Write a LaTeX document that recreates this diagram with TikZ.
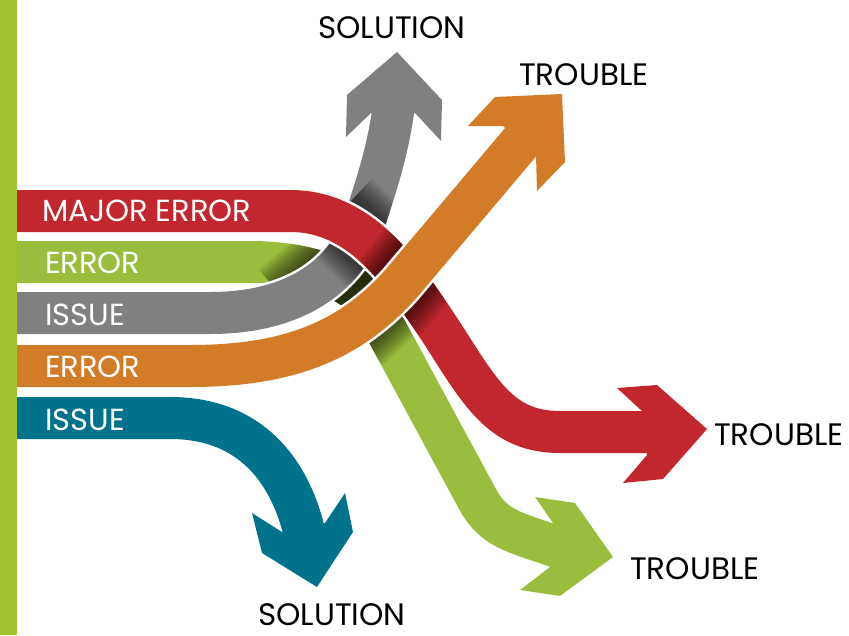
\documentclass[tikz,border=0pt]{standalone}
\usepackage{fontspec}
\setmainfont{Poppins}
\usetikzlibrary{calc}
\definecolor{cred}{HTML}{C1272D}
\definecolor{cgreen}{HTML}{9BBD3D}
\definecolor{cgrey}{HTML}{808080}
\definecolor{corange}{HTML}{D37C28}
\definecolor{cteal}{HTML}{01728B}
\definecolor{cbar}{HTML}{A1C22C}
\tikzset{
  bandwhite/.style={line width=47pt, white},
  band/.style={line width=42pt},
  headwhite/.style={fill=white, draw=white, line width=5pt, line join=miter},
  lbl/.style={font=\fontsize{30.5}{30.5}\selectfont, text=white, inner sep=0pt, anchor=base west},
  blbl/.style={font=\fontsize{31}{31}\selectfont, text=black, inner sep=0pt, anchor=base west}
}
% shadow cast on an under-band (#1) by a straight stretch P(#2)--Q(#3) of the band above it
\newcommand{\castshadow}[3]{%
  \foreach \d in {48,46,...,24}{%
    \begin{scope}
      \clip ($(#2)!\d pt!90:(#3)$) -- ($(#3)!\d pt!-90:(#2)$) -- ($(#3)!\d pt!90:(#2)$) -- ($(#2)!\d pt!-90:(#3)$) -- cycle;
      \draw[band, black, opacity=0.06] #1;
    \end{scope}
  }%
}
\begin{document}
\begin{tikzpicture}[x=1pt,y=-1pt]
\useasboundingbox (0,0) rectangle (849,635);
\fill[white] (0,0) rectangle (849,635);

% green band
\def\pgreen{(17,262) -- (250,262) .. controls (310,262) and (359,280) .. (378,315) -- (478,500) .. controls (495,530) and (515,532) .. (560,548)}
\def\hgreen{(553,523) -- (535,497) -- (575,503) -- (613,557) -- (560,596) -- (520,590) -- (550,567) -- cycle}
\draw[bandwhite] \pgreen;
\path[headwhite] \hgreen;
\draw[band, cgreen] \pgreen;
\fill[cgreen] \hgreen;
\castshadow{\pgreen}{290,306}{364,243}
\castshadow{\pgreen}{340,340}{420,265}

% grey band
\def\pgrey{(17,313) -- (210,313) .. controls (290,313) and (345,280) .. (365,220) .. controls (378,180) and (388,150) .. (394,105)}
\def\hgrey{(371,113) -- (346,137) -- (347,95) -- (397,52) -- (442,100) -- (441,141) -- (415,113) -- cycle}
\draw[bandwhite] \pgrey;
\path[headwhite] \hgrey;
\draw[band, cgrey] \pgrey;
\fill[cgrey] \hgrey;
\castshadow{\pgrey}{339,214}{412,282}

% red band
\def\pred{(17,211) -- (290,211) .. controls (360,211) and (400,270) .. (440,330) .. controls (480,392) and (500,432) .. (560,432) -- (650,432)}
\def\hred{(643,412) -- (617,388) -- (657,385) -- (707,429) -- (663,479) -- (623,483) -- (647,455) -- cycle}
\draw[bandwhite] \pred;
\path[headwhite] \hred;
\draw[band, cred] \pred;
\fill[cred] \hred;
\castshadow{\pred}{380,309}{460,214}

% orange band
\def\porange{(17,366) -- (190,366) .. controls (290,366) and (350,340) .. (400,285) -- (525,137)}
\def\horange{(503,126) -- (468,126) -- (495,97) -- (562,94) -- (565,162) -- (537,191) -- (536,155) -- cycle}
\draw[bandwhite] \porange;
\path[headwhite] \horange;
\draw[band, corange] \porange;
\fill[corange] \horange;

% teal band
\def\pteal{(17,418) -- (170,418) .. controls (250,418) and (290,470) .. (305,535)}
\def\hteal{(282,532) -- (252,513) -- (262,553) -- (317,587) -- (353,532) -- (345,493) -- (325,523) -- cycle}
\draw[bandwhite] \pteal;
\path[headwhite] \hteal;
\draw[band, cteal] \pteal;
\fill[cteal] \hteal;

% left bar
\fill[cbar] (0,0) rectangle (17,635);

% band labels
\node[lbl] (lmajor) at (42,221) {MAJOR ERROR};
\node[lbl] (lerr1) at (45,273) {ERROR};
\node[lbl] (liss1) at (45,325) {ISSUE};
\node[lbl] (lerr2) at (45,377) {ERROR};
\node[lbl] (liss2) at (45,430) {ISSUE};

% outcome labels
\node[blbl] (sol1) at (318,38) {SOLUTION};
\node[blbl] (tr1) at (519,85) {TROUBLE};
\node[blbl] (tr2) at (714,445) {TROUBLE};
\node[blbl] (tr3) at (630,579) {TROUBLE};
\node[blbl] (sol2) at (258,625) {SOLUTION};
\end{tikzpicture}
\end{document}
